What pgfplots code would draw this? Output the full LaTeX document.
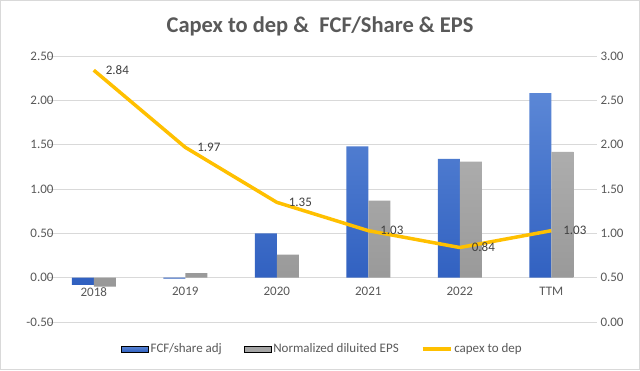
\documentclass[border=0pt]{standalone}
\usepackage{pgfplots}
\pgfplotsset{compat=1.18}
\usepackage{fontspec}
\setmainfont{Carlito}
\definecolor{gridc}{HTML}{D9D9D9}
\definecolor{txt}{HTML}{595959}
\definecolor{lbl}{HTML}{404040}
\definecolor{bluetop}{HTML}{5B87D6}
\definecolor{bluebot}{HTML}{3060C0}
\definecolor{grayb}{HTML}{A5A5A5}
\definecolor{graytop}{HTML}{ADADAD}
\definecolor{graybot}{HTML}{989898}
\definecolor{gold}{HTML}{FFC000}
\tikzset{twodec/.style={/pgf/number format/fixed, /pgf/number format/fixed zerofill, /pgf/number format/precision=2, /pgf/number format/assume math mode=true}}
\pgfplotsset{twodec/.style={/pgf/number format/fixed, /pgf/number format/fixed zerofill, /pgf/number format/precision=2, /pgf/number format/assume math mode=true}}
\begin{document}
\begin{tikzpicture}[x=1pt,y=1pt]
\draw[gridc, line width=0.8pt, fill=white] (0.4,0.4) rectangle (639.6,369.6);
\node[font=\fontsize{22.5}{25}\selectfont\bfseries, text=txt] at (320,344) {Capex to dep \&\ \ FCF/Share \& EPS};
\begin{axis}[
  at={(48pt,48pt)}, anchor=south west, scale only axis,
  width=549pt, height=266pt,
  xmin=-0.5, xmax=5.5, ymin=-0.5, ymax=2.5,
  xtick={0,...,5}, xticklabels={2018,2019,2020,2021,2022,TTM},
  ytick={-0.5,0,0.5,1,1.5,2,2.5},
  yticklabel style={twodec},
  yticklabel shift=-9pt,
  every tick label/.append style={font=\fontsize{13}{15}\selectfont, text=txt},
  xticklabel style={yshift=38pt},
  axis line style={draw=none},
  major tick length=0pt,
  ymajorgrids, grid style={gridc, line width=0.8pt},
  ybar=0pt, bar width=22pt,
  clip=false,
]
\addplot[draw=none, top color=bluetop, bottom color=bluebot] coordinates {(0,-0.08) (1,-0.01) (2,0.50) (3,1.48) (4,1.34) (5,2.08)};
\addplot[draw=none, top color=graytop, bottom color=graybot] coordinates {(0,-0.10) (1,0.05) (2,0.26) (3,0.87) (4,1.31) (5,1.42)};
\end{axis}
\begin{axis}[
  at={(48pt,48pt)}, anchor=south west, scale only axis,
  width=549pt, height=266pt,
  xmin=-0.5, xmax=5.5, ymin=0, ymax=3,
  xtick=\empty,
  ytick={0,0.5,1,1.5,2,2.5,3},
  yticklabel pos=right,
  yticklabel style={twodec},
  every tick label/.append style={font=\fontsize{13}{15}\selectfont, text=txt},
  axis line style={draw=none},
  major tick length=0pt,
  clip=false,
  legend style={at={(0.5,-0.1015)}, anchor=center, draw=none, fill=none,
    font=\fontsize{13}{15}\selectfont, text=txt, legend columns=3,
    /tikz/every even column/.append style={column sep=20pt}},
]
\addlegendimage{legend image code/.code={\path[top color=bluetop, bottom color=bluebot] (0pt,-3pt) rectangle (27pt,3pt);}}
\addlegendentry{FCF/share adj}
\addlegendimage{legend image code/.code={\path[fill=grayb] (0pt,-3pt) rectangle (27pt,3pt);}}
\addlegendentry{Normalized diluited EPS}
\addplot[gold, line width=3.5pt, line join=round,
  nodes near coords,
  nodes near coords style={anchor=west, xshift=7pt, font=\fontsize{13}{15}\selectfont, text=lbl, twodec},
  legend image code/.code={\draw[gold, line width=3.5pt] (0pt,0pt) -- (28pt,0pt);}
] coordinates {(0,2.84) (1,1.97) (2,1.35) (3,1.03) (4,0.84) (5,1.03)};
\addlegendentry{capex to dep}
\end{axis}
\end{tikzpicture}
\end{document}
